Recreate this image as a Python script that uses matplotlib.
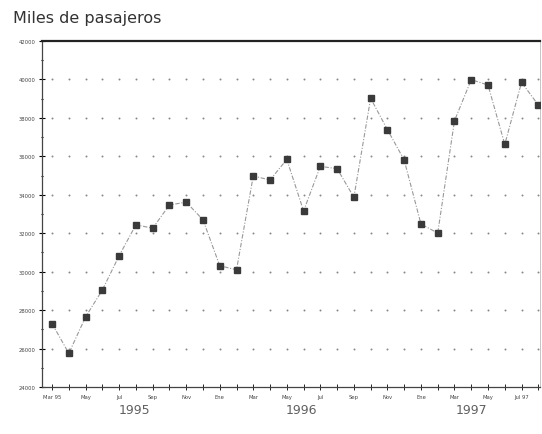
import matplotlib.pyplot as plt
import numpy as np

# pasajeros mensuales (miles), marzo 1995 - agosto 1997
pasajeros = [27300, 25750, 27650, 29050, 30830, 32440, 32260, 33470, 33620, 32700,
             30310, 30100, 34980, 34770, 35840, 33160, 35480, 35360, 33870, 39020,
             37390, 35810, 32480, 32010, 37850, 39990, 39710, 36620, 39850, 38670]
meses = ["Mar 95", "May", "Jul", "Sep", "Nov", "Ene", "Mar", "May",
         "Jul", "Sep", "Nov", "Ene", "Mar", "May", "Jul 97"]
anios = ["1995", "1996", "1997"]
y_ticks = list(range(24000, 42001, 2000))

x = np.arange(len(pasajeros))

fig = plt.figure(figsize=(5.42, 4.35), dpi=100)
ax = fig.add_axes([0.0775, 0.108, 0.9188, 0.7954])

# rejilla de puntos
gx, gy = np.meshgrid(x, y_ticks[1:-1])
ax.scatter(gx.ravel(), gy.ravel(), s=2.0, color="#888888", zorder=1, linewidths=0)

ax.plot(x, pasajeros, color="#999999", lw=0.8, ls=(0, (4, 1.5, 1, 1.5)), zorder=2)
ax.plot(x, pasajeros, ls="none", marker="s", ms=4.2, color="#3a3a3a", zorder=3)

ax.set_xlim(-0.6, 29.1)
ax.set_ylim(24000, 42000)
ax.set_yticks(y_ticks)
ax.set_yticklabels([str(v) for v in y_ticks], fontsize=3.8, color="#444444")
ax.set_yticks(range(25000, 42000, 2000), minor=True)
ax.set_xticks(x, minor=True)
ax.set_xticks(x[::2])
ax.set_xticklabels(meses, fontsize=3.8, color="#444444")
ax.tick_params(axis="y", which="major", direction="inout", length=5, width=0.8, pad=2)
ax.tick_params(axis="y", which="minor", direction="inout", length=2, width=0.8)
ax.tick_params(axis="x", which="both", direction="inout", length=4, width=0.6, pad=3)

for s in ["left", "bottom"]:
    ax.spines[s].set_color("#444444")
    ax.spines[s].set_linewidth(0.9)
ax.spines["top"].set_linewidth(1.6)
ax.spines["top"].set_color("#222222")
ax.spines["right"].set_color("#bbbbbb")
ax.spines["right"].set_linewidth(0.6)

for pos, anio in zip([4.9, 14.9, 25.0], anios):
    ax.text(pos, -0.045, anio, transform=ax.get_xaxis_transform(),
            ha="center", va="top", fontsize=9, color="#606060")

fig.text(0.024, 0.958, "Miles de pasajeros", fontsize=11.5, color="#333333",
         ha="left", va="center")

fig.savefig("out.png", dpi=100)
